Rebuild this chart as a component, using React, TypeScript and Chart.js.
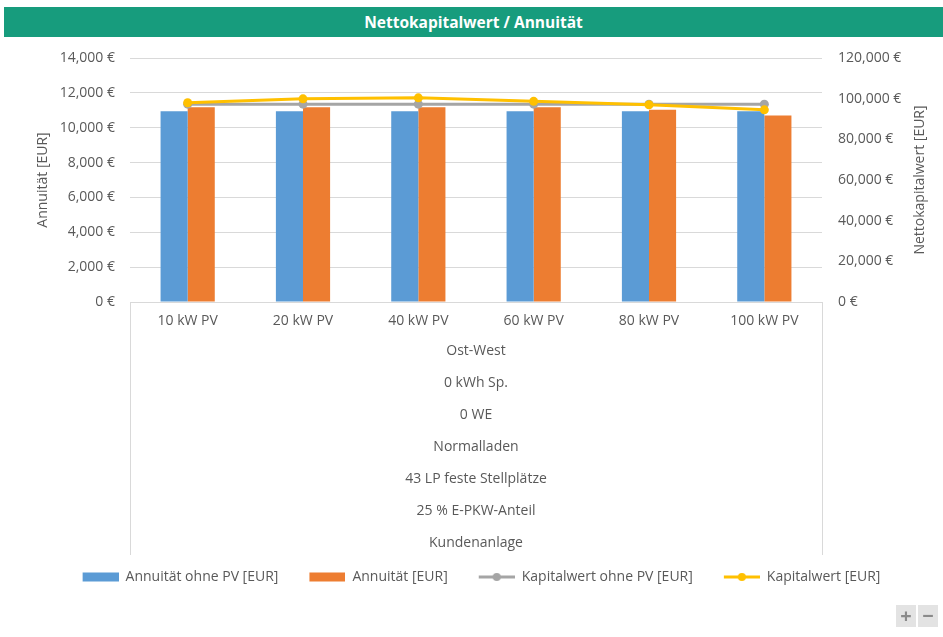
import React, { useEffect, useRef } from 'react';
import { Chart, registerables } from 'chart.js';

Chart.register(...registerables);

// ---- data ----
const categories = ['10 kW PV', '20 kW PV', '40 kW PV', '60 kW PV', '80 kW PV', '100 kW PV'];
const groupLines = [
  'Ost-West',
  '0 kWh Sp.',
  '0 WE',
  'Normalladen',
  '43 LP feste Stellplätze',
  '25 % E-PKW-Anteil',
  'Kundenanlage',
];
const seriesNames = [
  'Annuität ohne PV [EUR]',
  'Annuität [EUR]',
  'Kapitalwert ohne PV [EUR]',
  'Kapitalwert [EUR]',
];
const annuitaetOhnePV = [10950, 10950, 10950, 10950, 10950, 10950];
const annuitaet = [11180, 11180, 11180, 11180, 11030, 10700];
const kapitalwertOhnePV = [97300, 97300, 97300, 97300, 97300, 97300];
const kapitalwert = [98000, 99900, 100400, 98700, 97000, 94500];
const leftTicks = { min: 0, max: 14000, step: 2000 };
const rightTicks = { min: 0, max: 120000, step: 20000 };
const chartTitle = 'Nettokapitalwert / Annuität';
const leftAxisTitle = 'Annuität [EUR]';
const rightAxisTitle = 'Nettokapitalwert [EUR]';

// ---- styles ----
const BLUE = '#5B9BD5';
const ORANGE = '#ED7D31';
const GRAY = '#A5A5A5';
const YELLOW = '#FFC000';
const TEXT = '#595959';
const GRID = '#D9D9D9';
const FONT = "'Open Sans', sans-serif";
const GROUP_LH = 32;
const SWATCH_W = 56;

function swatch(kind: 'bar' | 'line', color: string) {
  const c = document.createElement('canvas');
  c.width = SWATCH_W;
  c.height = 10;
  const g = c.getContext('2d')!;
  const x0 = SWATCH_W - 36;
  if (kind === 'bar') {
    g.fillStyle = color;
    g.fillRect(x0, 0.5, 36, 9);
  } else {
    g.strokeStyle = color;
    g.lineWidth = 3;
    g.beginPath();
    g.moveTo(x0, 5);
    g.lineTo(x0 + 36, 5);
    g.stroke();
    g.fillStyle = color;
    g.beginPath();
    g.arc(x0 + 18, 5, 4, 0, Math.PI * 2);
    g.fill();
  }
  return c;
}

const fmtEuro = (v: number) => `${Number(v).toLocaleString('en-US')} €`;

const extrasPlugin = {
  id: 'extras',
  afterDraw(chart: any) {
    const { ctx, chartArea, scales } = chart;
    const x2 = scales.x2;
    const y1 = scales.y1;
    ctx.save();
    // box lines of the multi-level category axis
    const bottom = x2.bottom - 4;
    ctx.strokeStyle = GRID;
    ctx.lineWidth = 1;
    ctx.beginPath();
    ctx.moveTo(Math.round(chartArea.left) + 0.5, chartArea.bottom);
    ctx.lineTo(Math.round(chartArea.left) + 0.5, bottom);
    ctx.moveTo(Math.round(chartArea.right) + 0.5, chartArea.bottom);
    ctx.lineTo(Math.round(chartArea.right) + 0.5, bottom);
    ctx.stroke();
    // right axis title, reading bottom to top
    ctx.fillStyle = TEXT;
    ctx.font = `14px ${FONT}`;
    ctx.textAlign = 'center';
    ctx.textBaseline = 'middle';
    ctx.translate(y1.right - 23, (chartArea.top + chartArea.bottom) / 2);
    ctx.rotate(-Math.PI / 2);
    ctx.fillText(rightAxisTitle, 0, 0);
    ctx.restore();
  },
};

export default function App() {
  const ref = useRef<HTMLCanvasElement>(null);

  useEffect(() => {
    document.body.style.margin = '0';
    const colors = [BLUE, ORANGE, GRAY, YELLOW];
    const kinds: ('bar' | 'line')[] = ['bar', 'bar', 'line', 'line'];
    const images = colors.map((c, i) => swatch(kinds[i], c));

    const chart = new Chart(ref.current!, {
      data: {
        labels: categories,
        datasets: [
          {
            type: 'bar',
            label: seriesNames[0],
            data: annuitaetOhnePV,
            backgroundColor: BLUE,
            yAxisID: 'y',
            xAxisID: 'x',
            order: 2,
            categoryPercentage: 0.47,
            barPercentage: 1,
          },
          {
            type: 'bar',
            label: seriesNames[1],
            data: annuitaet,
            backgroundColor: ORANGE,
            yAxisID: 'y',
            xAxisID: 'x',
            order: 2,
            categoryPercentage: 0.47,
            barPercentage: 1,
          },
          {
            type: 'line',
            label: seriesNames[2],
            data: kapitalwertOhnePV,
            borderColor: GRAY,
            backgroundColor: GRAY,
            pointBackgroundColor: GRAY,
            borderWidth: 3,
            pointRadius: 4.5,
            pointBorderWidth: 0,
            tension: 0,
            yAxisID: 'y1',
            xAxisID: 'x',
            order: 1,
          },
          {
            type: 'line',
            label: seriesNames[3],
            data: kapitalwert,
            borderColor: YELLOW,
            backgroundColor: YELLOW,
            pointBackgroundColor: YELLOW,
            borderWidth: 3,
            pointRadius: 4.5,
            pointBorderWidth: 0,
            tension: 0,
            yAxisID: 'y1',
            xAxisID: 'x',
            order: 0,
          },
        ],
      } as any,
      options: {
        responsive: false,
        animation: false,
        events: [],
        layout: { padding: { top: 58, left: 0, right: 0, bottom: 43 } },
        plugins: {
          tooltip: { enabled: false },
          title: { display: false },
          legend: {
            position: 'bottom',
            labels: {
              usePointStyle: true,
              pointStyleWidth: SWATCH_W,
              padding: 11,
              color: TEXT,
              font: { family: FONT, size: 14 },
              generateLabels: (ch: any) =>
                ch.data.datasets.map((ds: any, i: number) => ({
                  text: ds.label,
                  pointStyle: images[i],
                  fillStyle: colors[i],
                  strokeStyle: colors[i],
                  lineWidth: 0,
                  hidden: false,
                  datasetIndex: i,
                  fontColor: TEXT,
                })),
            },
          },
        },
        scales: {
          x: {
            type: 'category',
            position: 'bottom',
            offset: true,
            grid: { display: false, drawTicks: false },
            border: { display: true, color: GRID },
            ticks: {
              color: TEXT,
              font: { family: FONT, size: 14 },
              padding: 11,
              maxRotation: 0,
              autoSkip: false,
            },
            afterFit: (s: any) => {
              s.height = 33;
            },
          },
          x2: {
            type: 'category',
            position: 'bottom',
            labels: [groupLines] as any,
            offset: true,
            grid: { display: false, drawTicks: false },
            border: { display: false },
            ticks: {
              color: TEXT,
              font: { family: FONT, size: 14, lineHeight: `${GROUP_LH}px` },
              padding: 0,
              maxRotation: 0,
            },
            afterFit: (s: any) => {
              s.height = groupLines.length * GROUP_LH;
            },
          },
          y: {
            type: 'linear',
            position: 'left',
            min: leftTicks.min,
            max: leftTicks.max,
            grid: { color: GRID, drawTicks: false },
            border: { display: false },
            ticks: {
              stepSize: leftTicks.step,
              color: TEXT,
              font: { family: FONT, size: 14 },
              padding: 15,
              callback: (v: any) => fmtEuro(v),
            },
            title: {
              display: true,
              text: leftAxisTitle,
              color: TEXT,
              font: { family: FONT, size: 14 },
              padding: { top: 34.6, bottom: 0 },
            },
            afterFit: (s: any) => {
              s.width = 130;
            },
          },
          y1: {
            type: 'linear',
            position: 'right',
            min: rightTicks.min,
            max: rightTicks.max,
            grid: { drawOnChartArea: false, drawTicks: false },
            border: { display: false },
            ticks: {
              stepSize: rightTicks.step,
              color: TEXT,
              font: { family: FONT, size: 14 },
              padding: 16,
              callback: (v: any) => fmtEuro(v),
            },
            afterFit: (s: any) => {
              s.width = 121;
            },
          },
        },
      } as any,
      plugins: [extrasPlugin],
    });
    return () => chart.destroy();
  }, []);

  const btn: React.CSSProperties = {
    position: 'absolute',
    top: 605,
    width: 20,
    height: 22,
    background: '#E3E3E3',
    color: '#8A8A8A',
    fontFamily: FONT,
    fontWeight: 700,
    fontSize: 20,
    lineHeight: '22px',
    textAlign: 'center',
  };

  return (
    <div style={{ position: 'relative', width: 943, height: 637, background: '#fff', overflow: 'hidden' }}>
      <canvas ref={ref} width={943} height={637} style={{ position: 'absolute', left: 0, top: 0 }} />
      <div
        style={{
          position: 'absolute',
          left: 4,
          top: 7,
          width: 939,
          height: 30,
          background: '#179C7D',
          color: '#fff',
          fontFamily: FONT,
          fontWeight: 700,
          fontSize: 15.5,
          lineHeight: '30px',
          textAlign: 'center',
        }}
      >
        {chartTitle}
      </div>
      <div style={{ ...btn, left: 896 }}>+</div>
      <div style={{ ...btn, left: 918 }}>−</div>
    </div>
  );
}
